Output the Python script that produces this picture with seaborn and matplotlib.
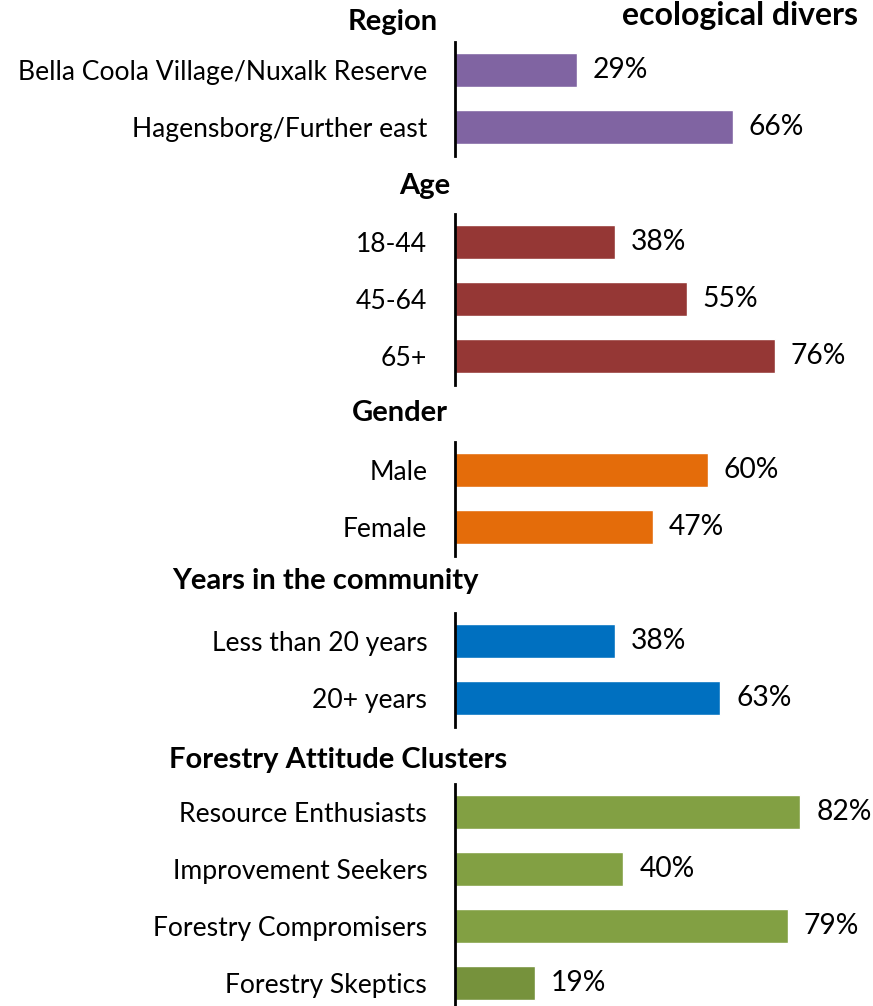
import matplotlib
matplotlib.use("Agg")
import matplotlib.pyplot as plt
import seaborn as sns
import pandas as pd

sns.set_theme(style="white")
plt.rcParams['font.family'] = ['Lato', 'DejaVu Sans']

# ---- data ----
title_text = "ecological divers"
group_titles = ["Region", "Age", "Gender", "Years in the community",
                "Forestry Attitude Clusters"]

region_labels = ["Bella Coola Village/Nuxalk Reserve", "Hagensborg/Further east"]
region_values = [29, 66]

age_labels = ["18-44", "45-64", "65+"]
age_values = [38, 55, 76]

gender_labels = ["Male", "Female"]
gender_values = [60, 47]

years_labels = ["Less than 20 years", "20+ years"]
years_values = [38, 63]

cluster_labels = ["Resource Enthusiasts", "Improvement Seekers",
                  "Forestry Compromisers", "Forestry Skeptics"]
cluster_values = [82, 40, 79, 19]

region_colors = ["#8064A2", "#8064A2"]
age_colors = ["#953735", "#953735", "#953735"]
gender_colors = ["#E46C0A", "#E46C0A"]
years_colors = ["#0070C0", "#0070C0"]
cluster_colors = ["#82A043", "#82A043", "#82A043", "#76923C"]

groups = [
    (region_labels, region_values, region_colors),
    (age_labels, age_values, age_colors),
    (gender_labels, gender_values, gender_colors),
    (years_labels, years_values, years_colors),
    (cluster_labels, cluster_values, cluster_colors),
]

# ---- layout (pixels) ----
W, H = 873, 1006
ROW = 57.0
first_center = [70, 242, 470, 641, 812]
header_pos = [(393, 22), (425, 186), (400, 413), (325, 581), (338, 760)]
AX_LEFT = 455
PX_PER_PCT = 4.21
XMAX = 90
FS = 19.1
FS_VAL = 20.3
FS_HEAD = 21

fig = plt.figure(figsize=(W / 100, H / 100), dpi=100)

for (labels, values, colors), c0, title, (hx, hy) in zip(groups, first_center,
                                                        group_titles, header_pos):
    n = len(labels)
    top = c0 - 0.5 * ROW
    height = n * ROW
    ax = fig.add_axes([AX_LEFT / W, 1 - (top + height) / H,
                       XMAX * PX_PER_PCT / W, height / H])
    df = pd.DataFrame({"label": labels, "value": values})
    sns.barplot(data=df, x="value", y="label", hue="label",
                palette=dict(zip(labels, colors)), order=labels,
                width=0.6, legend=False, saturation=1, ax=ax)
    ax.set_xlim(0, XMAX)
    ax.set_ylim(n - 0.5, -0.5)
    ax.set_xlabel("")
    ax.set_ylabel("")
    ax.set_xticks([])
    for s in ["top", "right", "bottom"]:
        ax.spines[s].set_visible(False)
    ax.spines["left"].set_color("black")
    ax.spines["left"].set_linewidth(2)
    ax.tick_params(axis="y", length=0, pad=20, labelsize=FS, labelcolor="black")
    ax.patch.set_alpha(0)
    for cont in ax.containers:
        ax.bar_label(cont, fmt="%d%%", padding=11.5, fontsize=FS_VAL, color="black")
    fig.text(hx / W, 1 - hy / H, title, ha="center", va="center",
             fontsize=FS_HEAD, fontweight="bold", color="black")

fig.text(622 / W, 1 - 1 / H, title_text, ha="left", va="top",
         fontsize=23, fontweight="bold", color="black")

fig.savefig("out.png", dpi=100, facecolor="white")
